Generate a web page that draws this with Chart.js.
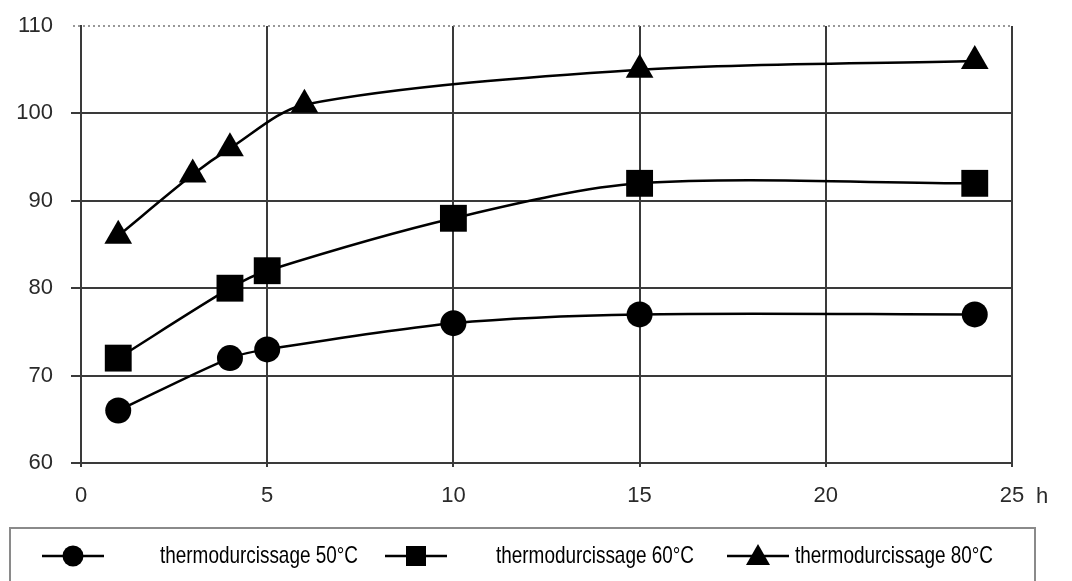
<!DOCTYPE html>
<html>
<head>
<meta charset="utf-8">
<script src="https://cdn.jsdelivr.net/npm/chart.js@4/dist/chart.umd.min.js"></script>
<style>
	html, body { margin: 0; padding: 0; background: #fff; }
	#wrap { width: 1072px; height: 581px; position: relative; }
</style>
</head>
<body>
<div id="wrap"><canvas id="chart"></canvas></div>
<script>
"use strict";

const labels = [
	"thermodurcissage 50°C",
	"thermodurcissage 60°C",
	"thermodurcissage 80°C",
];

const cure50 = [[1, 66], [4, 72], [5, 73], [10, 76], [15, 77], [24, 77]];
const cure60 = [[1, 72], [4, 80], [5, 82], [10, 88], [15, 92], [24, 92]];
const cure80 = [[1, 86], [3, 93], [4, 96], [6, 101], [15, 105], [24, 106]];

const pointStyles = ["circle", "rect", "triangle"];
const xUnit = "h";

const lineColor = "#000";
const gridColor = "#3a3a3a";
const tickColor = "#2a2a2a";
const tickFont = "'Liberation Sans', Arial, sans-serif";


function toPoints(list) {
	return list.map(p => ({ x: p[0], y: p[1] }));
}


function drawMarker(ctx, style, x, y) {
	ctx.beginPath();
	if (style == "circle") {
		ctx.arc(x, y, 10.5, 0, Math.PI * 2);
	} else if (style == "rect") {
		ctx.rect(x - 10, y - 10, 20, 20);
	} else {
		ctx.moveTo(x, y - 12);
		ctx.lineTo(x + 12, y + 9);
		ctx.lineTo(x - 12, y + 9);
		ctx.closePath();
	}
	ctx.fill();
}


// dotted top line, the "h" unit and the boxed legend under the chart
const extras = {
	id: "extras",
	afterDraw(chart) {
		const ctx = chart.ctx;
		const area = chart.chartArea;
		const xs = chart.scales.x;
		ctx.save();

		ctx.strokeStyle = "#777";
		ctx.lineWidth = 1.5;
		ctx.setLineDash([2, 3]);
		ctx.beginPath();
		ctx.moveTo(area.left - 8, area.top);
		ctx.lineTo(area.right, area.top);
		ctx.stroke();
		ctx.setLineDash([]);

		ctx.fillStyle = tickColor;
		ctx.font = "22px " + tickFont;
		ctx.textBaseline = "middle";
		ctx.textAlign = "left";
		ctx.fillText(xUnit, xs.getPixelForValue(25) + 24, 497);

		ctx.strokeStyle = "#8a8a8a";
		ctx.lineWidth = 2;
		ctx.strokeRect(10, 528, 1025, 70);

		const lineStart = [42, 385, 727];
		const textStart = [160, 496, 795];
		const textWidth = 198;
		const y = 556;
		ctx.strokeStyle = lineColor;
		ctx.fillStyle = lineColor;
		ctx.lineWidth = 2.5;
		ctx.font = "24px 'Liberation Sans Narrow', " + tickFont;
		chart.data.datasets.forEach((set, i) => {
			const x0 = lineStart[i];
			ctx.beginPath();
			ctx.moveTo(x0, y);
			ctx.lineTo(x0 + 62, y);
			ctx.stroke();
			drawMarker(ctx, pointStyles[i], x0 + 31, y);

			const w = ctx.measureText(set.label).width;
			const k = textWidth / w;
			ctx.save();
			ctx.translate(textStart[i], y);
			ctx.scale(k, 1);
			ctx.fillText(set.label, 0, 0);
			ctx.restore();
		});

		ctx.restore();
	}
};


const datasets = [cure50, cure60, cure80].map((list, i) => ({
	label: labels[i],
	data: toPoints(list),
	borderColor: lineColor,
	backgroundColor: lineColor,
	borderWidth: 2.5,
	tension: 0.3,
	pointStyle: pointStyles[i],
	pointRadius: [13, 19, 16][i],
	pointBorderWidth: 0,
}));


new Chart(document.getElementById("chart"), {
	type: "line",
	data: { datasets: datasets },
	plugins: [extras],
	options: {
		responsive: true,
		maintainAspectRatio: false,
		animation: false,
		layout: {
			padding: { top: 26, right: 60, bottom: 68, left: 0 },
		},
		plugins: {
			legend: { display: false },
			tooltip: { enabled: false },
		},
		scales: {
			x: {
				type: "linear",
				min: 0,
				max: 25,
				afterFit: scale => {
					scale.height = 50;
					scale.paddingLeft = 0;
					scale.paddingRight = 0;
				},
				ticks: {
					stepSize: 5,
					color: tickColor,
					padding: 16,
					font: { family: tickFont, size: 22 },
				},
				grid: {
					color: gridColor,
					lineWidth: 2,
					tickLength: 4,
				},
				border: { color: gridColor, width: 2 },
			},
			y: {
				min: 60,
				max: 110,
				afterFit: scale => {
					scale.width = 81;
					scale.paddingTop = 0;
					scale.paddingBottom = 0;
				},
				ticks: {
					stepSize: 10,
					color: tickColor,
					padding: 18,
					font: { family: tickFont, size: 22 },
				},
				grid: {
					color: ctx => ctx.tick && ctx.tick.value == 110 ? "rgba(0,0,0,0)" : gridColor,
					lineWidth: 2,
					tickLength: 10,
				},
				border: { color: gridColor, width: 2 },
			},
		},
	},
});
</script>
</body>
</html>
